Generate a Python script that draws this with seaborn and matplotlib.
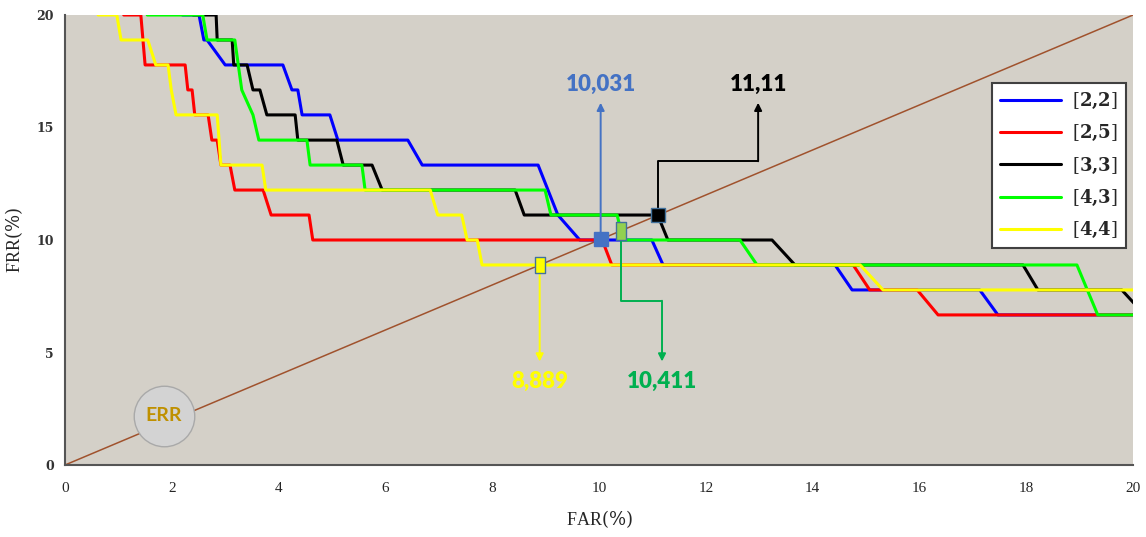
import numpy as np
import pandas as pd
import matplotlib
matplotlib.use("Agg")
import matplotlib.pyplot as plt
from matplotlib.lines import Line2D
import seaborn as sns

# ---------------- data ----------------
configs = ["[2,2]", "[2,5]", "[3,3]", "[4,3]", "[4,4]"]
colors = ["#0000FF", "#FF0000", "#000000", "#00FF00", "#FFFF00"]

blue_far = [2.20, 2.51, 2.60, 2.66, 3.00, 4.08, 4.25, 4.36, 4.44, 4.96, 5.11, 6.42, 6.69,
            8.86, 9.23, 9.64, 10.99, 11.20, 14.42, 14.74, 17.13, 17.47, 20.0]
blue_frr = [20.00, 20.00, 18.89, 18.89, 17.78, 17.78, 16.67, 16.67, 15.56, 15.56, 14.44, 14.44, 13.33,
            13.33, 11.11, 10.00, 10.00, 8.89, 8.89, 7.78, 7.78, 6.67, 6.67]

red_far = [1.10, 1.42, 1.50, 2.25, 2.30, 2.38, 2.43, 2.68, 2.75, 2.85, 2.92, 3.09, 3.18, 3.71,
           3.86, 4.57, 4.64, 10.06, 10.24, 14.76, 15.07, 15.96, 16.35, 20.0]
red_frr = [20.00, 20.00, 17.78, 17.78, 16.67, 16.67, 15.56, 15.56, 14.44, 14.44, 13.33, 13.33, 12.22, 12.22,
           11.11, 11.11, 10.00, 10.00, 8.89, 8.89, 7.78, 7.78, 6.67, 6.67]

black_far = [2.40, 2.83, 2.85, 3.13, 3.16, 3.41, 3.52, 3.65, 3.78, 4.31, 4.36, 5.09, 5.21, 5.75,
             5.94, 8.43, 8.60, 11.10, 11.29, 13.24, 13.67, 17.94, 18.22, 19.79, 20.22]
black_frr = [20.00, 20.00, 18.89, 18.89, 17.78, 17.78, 16.67, 16.67, 15.56, 15.56, 14.44, 14.44, 13.33, 13.33,
             12.22, 12.22, 11.11, 11.11, 10.00, 10.00, 8.89, 8.89, 7.78, 7.78, 6.67]

green_far = [1.54, 2.58, 2.66, 3.18, 3.31, 3.52, 3.63, 4.53, 4.59, 5.56, 5.62, 8.99, 9.10, 10.34,
             10.45, 12.64, 12.96, 18.95, 19.34, 20.0]
green_frr = [20.00, 20.00, 18.89, 18.89, 16.67, 15.56, 14.44, 14.44, 13.33, 13.33, 12.22, 12.22, 11.11, 11.11,
             10.00, 10.00, 8.89, 8.89, 6.67, 6.67]

yellow_far = [0.62, 0.97, 1.05, 1.55, 1.70, 1.93, 1.99, 2.08, 2.85, 2.92, 3.69, 3.76, 6.84, 6.98,
              7.43, 7.53, 7.72, 7.81, 14.89, 15.32, 20.0]
yellow_frr = [20.00, 20.00, 18.89, 18.89, 17.78, 17.78, 16.67, 15.56, 15.56, 13.33, 13.33, 12.22, 12.22, 11.11,
              11.11, 10.00, 10.00, 8.89, 8.89, 7.78, 7.78]

err_values = [10.031, 8.889, 11.11, 10.411]          # [2,2], [4,4], [3,3], [4,3]
err_labels = ["10,031", "8,889", "11,11", "10,411"]

x_ticks = [0, 2, 4, 6, 8, 10, 12, 14, 16, 18, 20]
y_ticks = [0, 5, 10, 15, 20]

# ---------------- build table ----------------
series = [(blue_far, blue_frr), (red_far, red_frr), (black_far, black_frr),
          (green_far, green_frr), (yellow_far, yellow_frr)]
frames = []
for name, (fx, fy) in zip(configs, series):
    frames.append(pd.DataFrame({"FAR": fx, "FRR": fy, "config": name, "idx": range(len(fx))}))
df = pd.concat(frames, ignore_index=True)

# ---------------- figure ----------------
sns.set_theme(style="white")
plt.rcParams["font.family"] = ["DejaVu Sans"]
plt.rcParams["mathtext.fontset"] = "dejavuserif"

fig = plt.figure(figsize=(11.46, 5.37), dpi=100)
ax = fig.add_axes([65 / 1146, (537 - 465) / 537, 1068 / 1146, 450 / 537])
ax.set_facecolor("#D4D0C8")

# diagonal (EER line)
ax.plot([0, 20], [0, 20], color="#A0522D", lw=1.1, zorder=1)

sns.lineplot(data=df, x="FAR", y="FRR", hue="config", hue_order=configs,
             palette=colors, sort=False, estimator=None, linewidth=2.2,
             legend=False, ax=ax, zorder=2)

ax.set_xlim(0, 20)
ax.set_ylim(0, 20)
ax.set_xticks(x_ticks)
ax.set_yticks(y_ticks)
ax.set_xticklabels([str(t) for t in x_ticks], family="Liberation Serif", fontsize=11)
ax.set_yticklabels([str(t) for t in y_ticks], family="DejaVu Serif", fontsize=9, fontweight="bold",
                   color="#333333")
ax.tick_params(axis="x", direction="in", length=6, width=1, color="#444444", pad=12)
ax.tick_params(axis="y", direction="in", length=6, width=1, color="#444444", pad=8)
for s in ["top", "right"]:
    ax.spines[s].set_visible(False)
for s in ["left", "bottom"]:
    ax.spines[s].set_color("#555555")
    ax.spines[s].set_linewidth(1.5)

ax.set_xlabel(r"FAR$\left(\%\right)$", family="Liberation Serif", fontsize=13, labelpad=10)
ax.set_ylabel(r"FRR$\left(\%\right)$", family="Liberation Serif", fontsize=13, labelpad=8)

# ---------------- ERR markers & annotations ----------------
edge = "#41719C"
rect = [(-0.6, -1), (0.6, -1), (0.6, 1), (-0.6, 1), (-0.6, -1)]
v_blue, v_yel, v_blk, v_grn = err_values

ax.plot([v_blue], [v_blue], marker="s", ms=10, color="#4472C4", mec="#4472C4", zorder=6)
ax.plot([v_yel], [v_yel], marker=rect, ms=12, color="#FFFF00", mec=edge, mew=1, zorder=6)
ax.plot([v_blk], [v_blk], marker="s", ms=10, color="#000000", mec=edge, mew=1, zorder=6)
ax.plot([v_grn], [v_grn], marker=rect, ms=13, color="#92D050", mec=edge, mew=1, zorder=6)

def elbow(points, color, lw=1.4):
    xs = [p[0] for p in points]
    ys = [p[1] for p in points]
    ax.plot(xs[:-1], ys[:-1], color=color, lw=lw, zorder=5, solid_capstyle="butt")
    ax.annotate("", xy=points[-1], xytext=points[-2],
                arrowprops=dict(arrowstyle="-|>", color=color, lw=lw,
                                mutation_scale=11, shrinkA=0, shrinkB=0), zorder=5)

lab_font = dict(family="Lato", fontweight="heavy", fontsize=16, ha="center", va="center")

# blue 10,031 (up)
elbow([(v_blue, v_blue + 0.3), (v_blue, 16.1)], "#4472C4")
ax.text(v_blue, 16.9, err_labels[0], color="#4472C4", **lab_font)

# black 11,11 (up-right-up)
elbow([(v_blk, v_blk + 0.3), (v_blk, 13.5), (12.98, 13.5), (12.98, 16.1)], "#000000")
ax.text(12.98, 16.9, err_labels[2], color="#000000", **lab_font)

# yellow 8,889 (down)
elbow([(v_yel, v_yel - 0.4), (v_yel, 4.6)], "#FFFF00")
ax.text(v_yel, 3.72, err_labels[1], color="#FFFF00", **lab_font)

# green 10,411 (down-right-down)
elbow([(v_grn, v_grn - 0.3), (v_grn, 7.3), (11.18, 7.3), (11.18, 4.6)], "#00B050")
ax.text(11.18, 3.72, err_labels[3], color="#00B050", **lab_font)

# ERR bubble
ax.scatter([1.85], [2.18], s=1900, color="#D3D3D3", edgecolor="#A9A9A9", linewidth=1, zorder=4)
ax.text(1.85, 2.18, "ERR", color="#BF9000", family="Lato", fontweight="bold", fontsize=14,
        ha="center", va="center", zorder=5)

# ---------------- legend ----------------
handles = [Line2D([0], [0], color=c, lw=2.2) for c in colors]
labels = [r"$\left[\mathbf{" + c.strip("[]").replace(",", "{,}") + r"}\right]$" for c in configs]
leg = ax.legend(handles, labels, loc="upper right", bbox_to_anchor=(0.9934, 0.849),
                frameon=True, fancybox=False, fontsize=13, handlelength=3.4,
                labelspacing=0.68, borderpad=0.45, handletextpad=0.6, borderaxespad=0)
leg.get_frame().set_edgecolor("#404040")
leg.get_frame().set_linewidth(1.5)
leg.get_frame().set_facecolor("white")
leg.get_frame().set_alpha(1)

fig.savefig("out.png", dpi=100, facecolor="white")
